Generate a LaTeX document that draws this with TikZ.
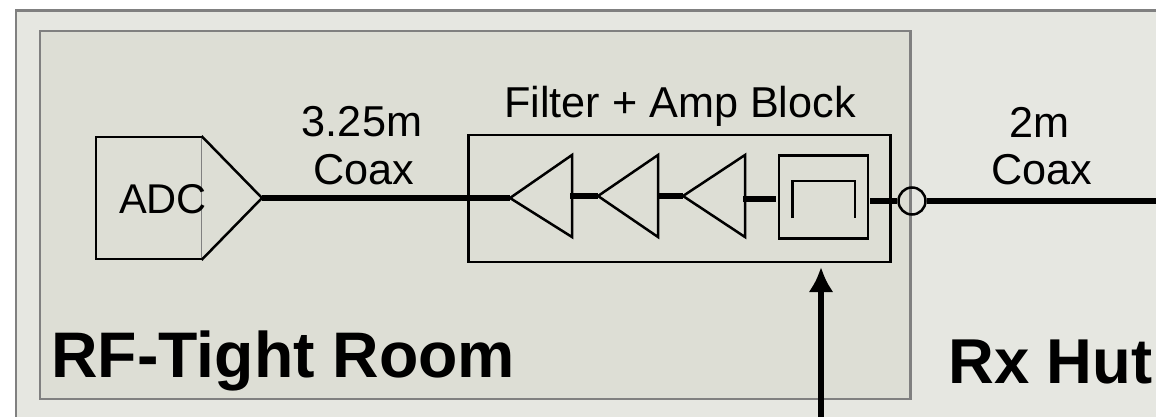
\documentclass[tikz,border=0pt]{standalone}
\usepackage{xcolor}
\usepackage{fontspec}
\setmainfont{Liberation Sans}
\usetikzlibrary{arrows.meta}
\definecolor{hutfill}{HTML}{E6E7E1}
\definecolor{roomfill}{HTML}{DDDED5}
\definecolor{wallgray}{HTML}{808080}
\tikzset{
  wall/.style={draw=wallgray,line width=1.3pt},
  part/.style={draw=black,line width=1.25pt,line join=miter},
  coax/.style={draw=black,line width=2.7pt},
  lbl/.style={font=\fontsize{21.6}{21.6}\selectfont,inner sep=0pt},
  title/.style={font=\fontsize{32}{32}\selectfont\bfseries,inner sep=0pt}
}
\begin{document}
\begin{tikzpicture}[x=0.5pt,y=-0.5pt]
\useasboundingbox (0,0) rectangle (1156,417);
\clip (0,0) rectangle (1156,417);

% rooms
\fill[white] (0,0) rectangle (1156,417);
\draw[wall,fill=hutfill] (16,10.5) rectangle (1180,440);
\draw[wall,fill=roomfill] (40,31) rectangle (910.5,399);

\coordinate (adctl) at (96,137);
\coordinate (adcbr) at (201.5,259);
\coordinate (adctip) at (262,198);
\coordinate (blocktl) at (468.5,135);
\coordinate (blockbr) at (890.5,262);

% adc
\draw[part] (adcbr) -- (adctl |- adcbr) -- (adctl) -- (adcbr |- adctl);
\draw[draw=wallgray,line width=0.6pt] (adcbr |- adctl) -- (adcbr);
\draw[part] (201.5,136) -- (adctip) -- (201.5,260);
\node[lbl,font=\fontsize{20.8}{20.8}\selectfont] (adc) at (163,199) {ADC};

% block
\draw[part] (blocktl) rectangle (blockbr);

% amplifiers
\coordinate (ampa) at (510,198);
\coordinate (ampb) at (598,196);
\coordinate (ampc) at (683,196);
\coordinate (ampaout) at (570,196);
\coordinate (ampbout) at (658,196);
\coordinate (ampcout) at (743,199);
\draw[part] (ampa) -- (572,155) -- (572,237) -- cycle;
\draw[part] (ampb) -- (658,155) -- (658,237) -- cycle;
\draw[part] (ampc) -- (745,155) -- (745,237) -- cycle;

% filter
\node[part,minimum width=44.5pt,minimum height=41.5pt,inner sep=0pt] (filt) at (823.5,197) {};
\draw[draw=black,line width=1.25pt] (792.5,218) -- (792.5,181) -- (855,181) -- (855,218);
\coordinate (filtin) at (776,199);
\coordinate (filtout) at (870,201);
\node[draw=black,line width=1.25pt,circle,minimum size=13.5pt,inner sep=0pt] (port) at (912,201) {};
\coordinate (hutend) at (1156,201);

% coax
\draw[coax] (adctip) -- (ampa);
\draw[coax] (ampaout) -- (ampb);
\draw[coax] (ampbout) -- (ampc);
\draw[coax] (ampcout) -- (filtin);
\draw[coax] (filtout) -- (port.west);
\draw[coax] (port.east) -- (hutend);

% control line
\coordinate (ctltop) at (821,267);
\coordinate (ctlbot) at (821,417);
\draw[line width=2.6pt,-{Latex[length=12.5pt,width=12.5pt]}] (ctlbot) -- (ctltop);

% labels
\node[lbl] (lena) at (362,122) {3.25m};
\node[lbl] (coaxa) at (364,170) {Coax};
\node[lbl] (blocklbl) at (680,106.5) {Filter + Amp Block};
\node[lbl] (lenb) at (1039,122) {2m};
\node[lbl] (coaxb) at (1041.5,170) {Coax};
\node[title,anchor=base west,font=\fontsize{32.2}{32.2}\selectfont\bfseries] (roomlbl) at (51,377) {RF-Tight Room};
\node[title,anchor=base west,font=\fontsize{31.7}{31.7}\selectfont\bfseries] (hutlbl) at (948,383) {Rx Hut};
\end{tikzpicture}
\end{document}
